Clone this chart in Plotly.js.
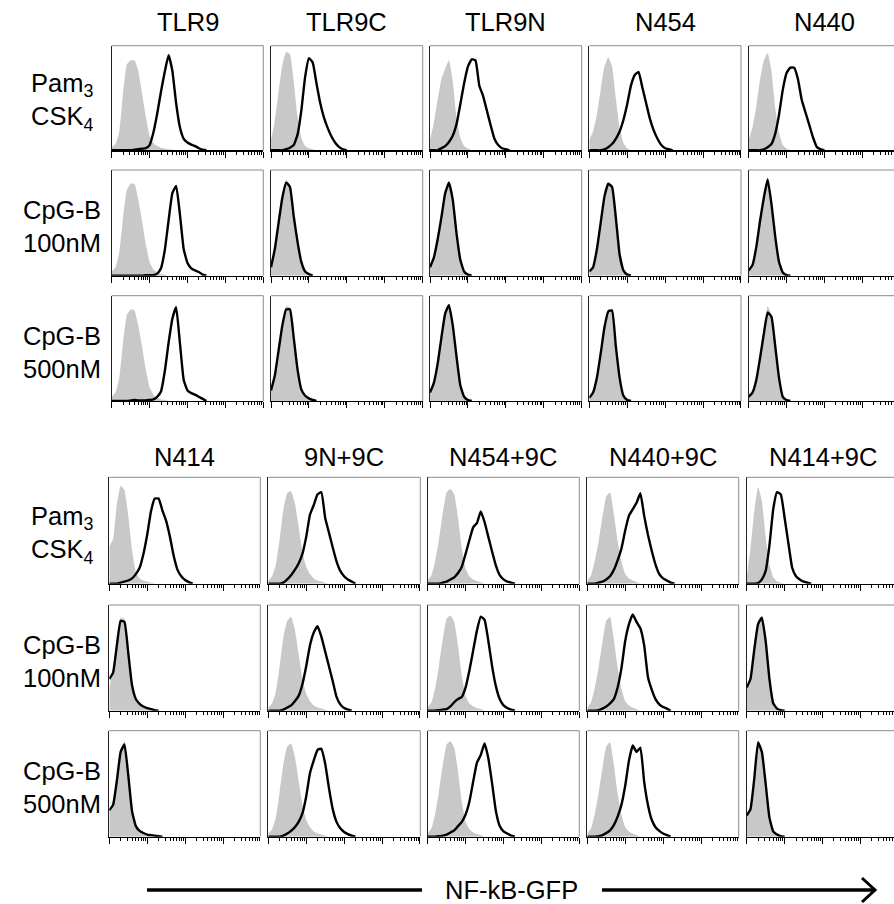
<!DOCTYPE html>
<html><head><meta charset="utf-8">
<script src="https://cdn.plot.ly/plotly-3.0.1.min.js"></script>
<style>html,body{margin:0;padding:0;background:#fff}#chart{width:894px;height:904px}</style>
</head><body><div id="chart"></div><script>
// bin centres in decades of NF-kB-GFP fluorescence (log10 units)
const binX = [0,0.1,0.2,0.3,0.4,0.5,0.6,0.7,0.8,0.9,1.0,1.1,1.2,1.3,1.4,1.5,1.6,1.7,1.8,1.9,2.0,2.1,2.2,2.3,2.4,2.5,2.6];

const colTitlesTop = ['TLR9','TLR9C','TLR9N','N454','N440'];
const colTitlesBottom = ['N414','9N+9C','N454+9C','N440+9C','N414+9C'];
const rowLabels = ['Pam<sub>3</sub><br>CSK<sub>4</sub>','CpG-B<br>100nM','CpG-B<br>500nM',
                   'Pam<sub>3</sub><br>CSK<sub>4</sub>','CpG-B<br>100nM','CpG-B<br>500nM'];
const axisLabel = 'NF-kB-GFP';

// ---- top block, row 1: Pam3CSK4 ----
const ctrl11 = [0.03,0.06,0.18,0.55,0.82,0.86,0.86,0.76,0.55,0.32,0.14,0.07,0.04,0.025,0.015,0.01,0.005,0];
const stim11 = [0,0,0,0,0,0,0.005,0.01,0.015,0.02,0.05,0.17,0.35,0.56,0.75,0.91,0.76,0.45,0.22,0.11,0.075,0.055,0.04,0.02,0.005,0];
const ctrl12 = [0.1,0.28,0.56,0.82,0.94,0.92,0.66,0.32,0.12,0.04,0.02,0.01,0];
const stim12 = [0,0,0,0,0.01,0.025,0.05,0.15,0.38,0.70,0.88,0.84,0.64,0.45,0.31,0.21,0.13,0.07,0.03,0.01,0];
const ctrl13 = [0.1,0.26,0.48,0.68,0.78,0.86,0.66,0.31,0.12,0.04,0.015,0];
const stim13 = [0,0,0,0.02,0.04,0.08,0.14,0.25,0.44,0.64,0.80,0.87,0.86,0.62,0.52,0.38,0.24,0.11,0.05,0.02,0.01,0];
const ctrl14 = [0.1,0.18,0.34,0.58,0.80,0.89,0.80,0.50,0.22,0.07,0.02,0];
const stim14 = [0,0,0,0,0.01,0.03,0.06,0.11,0.18,0.29,0.44,0.62,0.72,0.75,0.60,0.45,0.30,0.19,0.11,0.05,0.02,0.01,0];
const ctrl15 = [0.1,0.22,0.42,0.68,0.86,0.93,0.76,0.40,0.17,0.05,0.015,0];
const stim15 = [0,0,0,0,0.01,0.03,0.06,0.16,0.34,0.58,0.74,0.79,0.79,0.68,0.48,0.36,0.24,0.12,0.03,0.01,0];
// ---- top block, row 2: CpG-B 100nM ----
const ctrl21 = [0.04,0.08,0.22,0.55,0.81,0.87,0.87,0.72,0.52,0.30,0.13,0.06,0.03,0.015,0.01,0];
const stim21 = [0,0,0,0,0,0,0,0,0,0.005,0.005,0.005,0.02,0.07,0.24,0.52,0.78,0.85,0.58,0.25,0.12,0.07,0.05,0.035,0.01,0];
const ctrl22 = [0.08,0.25,0.50,0.76,0.91,0.86,0.56,0.32,0.13,0.04,0.015,0];
const stim22 = [0.08,0.25,0.50,0.74,0.88,0.84,0.56,0.32,0.13,0.04,0.015,0];
const ctrl23 = [0.08,0.17,0.34,0.56,0.80,0.89,0.72,0.40,0.15,0.04,0.01,0];
const stim23 = [0.08,0.17,0.34,0.55,0.78,0.88,0.72,0.40,0.15,0.04,0.01,0];
const ctrl24 = [0.04,0.08,0.25,0.51,0.76,0.89,0.85,0.55,0.20,0.05,0.01,0];
const stim24 = [0.04,0.08,0.25,0.50,0.75,0.87,0.84,0.55,0.20,0.05,0.01,0];
const ctrl25 = [0.05,0.10,0.27,0.53,0.76,0.93,0.69,0.37,0.13,0.03,0.005,0];
const stim25 = [0.05,0.10,0.27,0.52,0.74,0.91,0.68,0.37,0.13,0.03,0.005,0];
// ---- top block, row 3: CpG-B 500nM ----
const ctrl31 = [0.04,0.08,0.22,0.56,0.82,0.87,0.86,0.72,0.52,0.30,0.13,0.06,0.03,0.015,0.01,0];
const stim31 = [0,0,0,0,0,0.005,0.01,0.005,0.005,0.005,0.01,0.015,0.04,0.09,0.28,0.55,0.78,0.89,0.55,0.20,0.10,0.075,0.06,0.04,0.02,0];
const ctrl32 = [0.10,0.24,0.48,0.74,0.90,0.89,0.60,0.30,0.11,0.05,0.025,0.01,0];
const stim32 = [0.10,0.24,0.48,0.72,0.87,0.87,0.60,0.30,0.11,0.05,0.025,0.01,0];
const ctrl33 = [0.08,0.17,0.35,0.61,0.85,0.92,0.72,0.42,0.15,0.04,0.01,0];
const stim33 = [0.08,0.17,0.35,0.60,0.83,0.91,0.72,0.42,0.15,0.04,0.01,0];
const ctrl34 = [0.03,0.08,0.22,0.45,0.71,0.87,0.87,0.52,0.22,0.05,0.01,0];
const stim34 = [0.03,0.08,0.22,0.45,0.70,0.85,0.86,0.52,0.22,0.05,0.01,0];
const ctrl35 = [0.04,0.08,0.20,0.42,0.70,0.90,0.82,0.52,0.22,0.04,0.01,0];
const stim35 = [0.04,0.08,0.20,0.41,0.64,0.84,0.80,0.52,0.22,0.04,0.01,0];
// ---- bottom block, row 4: Pam3CSK4 ----
const ctrl41 = [0.35,0.42,0.75,0.92,0.88,0.64,0.32,0.11,0.05,0.03,0.02,0.01,0];
const stim41 = [0,0,0,0.01,0.02,0.03,0.05,0.09,0.15,0.28,0.46,0.68,0.80,0.80,0.69,0.59,0.44,0.26,0.13,0.07,0.035,0.015,0];
const ctrl42 = [0.03,0.07,0.18,0.42,0.70,0.85,0.87,0.76,0.54,0.30,0.16,0.09,0.05,0.03,0.02,0.01,0];
const stim42 = [0,0,0,0,0.01,0.04,0.08,0.13,0.19,0.28,0.44,0.65,0.74,0.84,0.86,0.62,0.48,0.34,0.21,0.12,0.07,0.04,0.02,0];
const ctrl43 = [0.03,0.08,0.22,0.42,0.67,0.86,0.89,0.84,0.62,0.33,0.14,0.07,0.04,0.025,0.015,0];
const stim43 = [0,0,0,0,0.01,0.02,0.04,0.06,0.10,0.16,0.28,0.41,0.53,0.57,0.68,0.58,0.44,0.30,0.17,0.08,0.04,0.02,0.01,0];
const ctrl44 = [0.03,0.08,0.22,0.40,0.63,0.82,0.86,0.66,0.40,0.21,0.09,0.05,0.03,0.015,0];
const stim44 = [0,0,0,0.01,0.02,0.04,0.07,0.13,0.22,0.33,0.50,0.64,0.70,0.76,0.85,0.64,0.46,0.31,0.18,0.09,0.05,0.03,0.01,0];
const ctrl45 = [0.06,0.33,0.68,0.91,0.78,0.44,0.18,0.06,0.02,0.01,0];
const stim45 = [0,0,0,0.005,0.04,0.12,0.36,0.70,0.86,0.84,0.62,0.38,0.15,0.07,0.04,0.02,0.01,0];
// ---- bottom block, row 5: CpG-B 100nM ----
const ctrl51 = [0.22,0.38,0.64,0.88,0.87,0.56,0.25,0.11,0.065,0.04,0.025,0.015,0.005,0];
const stim51 = [0.30,0.36,0.62,0.85,0.84,0.55,0.24,0.11,0.065,0.04,0.025,0.015,0.005,0];
const ctrl52 = [0.03,0.07,0.18,0.42,0.70,0.85,0.89,0.77,0.54,0.30,0.16,0.09,0.05,0.03,0.02,0.01,0];
const stim52 = [0,0,0,0,0.01,0.03,0.05,0.09,0.14,0.25,0.42,0.62,0.74,0.80,0.70,0.56,0.42,0.28,0.13,0.06,0.025,0.01,0];
const ctrl53 = [0.03,0.08,0.22,0.43,0.68,0.87,0.90,0.84,0.62,0.33,0.14,0.07,0.04,0.025,0.015,0];
const stim53 = [0,0,0,0.005,0.01,0.015,0.04,0.08,0.11,0.13,0.22,0.38,0.57,0.76,0.89,0.86,0.66,0.42,0.23,0.11,0.05,0.025,0.01,0];
const ctrl54 = [0.03,0.08,0.22,0.41,0.65,0.85,0.89,0.68,0.41,0.21,0.09,0.05,0.03,0.015,0];
const stim54 = [0,0,0,0.005,0.02,0.04,0.07,0.11,0.22,0.40,0.66,0.82,0.91,0.84,0.78,0.62,0.32,0.20,0.11,0.06,0.035,0.02,0];
const ctrl55 = [0.22,0.31,0.60,0.85,0.90,0.67,0.30,0.07,0.02,0.005,0];
const stim55 = [0.22,0.30,0.58,0.82,0.88,0.66,0.30,0.07,0.02,0.005,0];
// ---- bottom block, row 6: CpG-B 500nM ----
const ctrl61 = [0.25,0.31,0.55,0.83,0.90,0.59,0.24,0.10,0.055,0.035,0.02,0.015,0.01,0.005,0];
const stim61 = [0.25,0.30,0.53,0.80,0.87,0.58,0.24,0.10,0.055,0.035,0.02,0.015,0.01,0.005,0];
const ctrl62 = [0.03,0.07,0.18,0.42,0.69,0.85,0.88,0.76,0.53,0.30,0.16,0.09,0.05,0.03,0.02,0.01,0];
const stim62 = [0,0,0,0,0.01,0.03,0.055,0.09,0.14,0.22,0.38,0.60,0.72,0.82,0.83,0.69,0.46,0.26,0.14,0.08,0.045,0.025,0.01,0];
const ctrl63 = [0.03,0.08,0.22,0.43,0.68,0.87,0.90,0.84,0.62,0.33,0.14,0.07,0.04,0.025,0.015,0];
const stim63 = [0,0,0,0.005,0.01,0.02,0.04,0.06,0.10,0.14,0.21,0.33,0.52,0.70,0.77,0.88,0.74,0.50,0.24,0.10,0.05,0.03,0.01,0];
const ctrl64 = [0.03,0.08,0.22,0.41,0.65,0.85,0.89,0.68,0.41,0.21,0.09,0.05,0.03,0.015,0];
const stim64 = [0,0,0,0.005,0.015,0.035,0.06,0.11,0.19,0.30,0.48,0.72,0.86,0.80,0.84,0.52,0.30,0.16,0.09,0.055,0.03,0.015,0];
const ctrl65 = [0.2,0.27,0.57,0.91,0.82,0.51,0.18,0.05,0.02,0.005,0];
const stim65 = [0.2,0.26,0.55,0.89,0.80,0.50,0.18,0.05,0.02,0.005,0];

const ctrlGrid = [[ctrl11,ctrl12,ctrl13,ctrl14,ctrl15],[ctrl21,ctrl22,ctrl23,ctrl24,ctrl25],[ctrl31,ctrl32,ctrl33,ctrl34,ctrl35],
                  [ctrl41,ctrl42,ctrl43,ctrl44,ctrl45],[ctrl51,ctrl52,ctrl53,ctrl54,ctrl55],[ctrl61,ctrl62,ctrl63,ctrl64,ctrl65]];
const stimGrid = [[stim11,stim12,stim13,stim14,stim15],[stim21,stim22,stim23,stim24,stim25],[stim31,stim32,stim33,stim34,stim35],
                  [stim41,stim42,stim43,stim44,stim45],[stim51,stim52,stim53,stim54,stim55],[stim61,stim62,stim63,stim64,stim65]];

// ---- layout geometry (pixels) ----
const W = 894, H = 904;
const colsTopPx = [[111.7,263.3],[271,422.7],[430,581.7],[589.3,741],[748.7,894]];
const colsBotPx = [[109.3,260.3],[268.3,420.3],[427.7,579.3],[587.3,738.7],[746.7,894]];
const rowsPx = [[45.7,150.3],[170,275.7],[295.7,401],[477.3,583.7],[605,710.7],[730.7,836.7]];
const pxPerDecade = 151.6/4;
const FONT = 'Arial, "Liberation Sans", sans-serif';
const FS = 25.5;

const minorVals = [];
for (let d = 0; d < 4; d++) for (let k = 2; k <= 9; k++) minorVals.push(d + Math.log10(k));

const data = [];
const layout = {
  width: W, height: H, margin: {l:0, r:0, t:0, b:0},
  paper_bgcolor: '#fff', plot_bgcolor: '#fff', showlegend: false,
  annotations: [], shapes: []
};
const px2x = x => x / W;
const px2y = y => 1 - y / H;

let idx = 0;
for (let r = 0; r < 6; r++) {
  const cols = r < 3 ? colsTopPx : colsBotPx;
  for (let c = 0; c < 5; c++) {
    idx++;
    const xa = 'x' + (idx === 1 ? '' : idx), ya = 'y' + (idx === 1 ? '' : idx);
    const xk = 'xaxis' + (idx === 1 ? '' : idx), yk = 'yaxis' + (idx === 1 ? '' : idx);
    const [l, rr] = cols[c];
    const [t, b] = rowsPx[r];
    layout[xk] = {
      domain: [px2x(l), px2x(rr)], range: [0, (rr - l) / pxPerDecade], anchor: ya,
      showgrid: false, zeroline: false, showline: true, linecolor: '#000', linewidth: 1.3,
      ticks: 'outside', tickmode: 'array', tickvals: [0,1,2,3,4], ticklen: 6, tickwidth: 1, tickcolor: '#000',
      showticklabels: false, fixedrange: true,
      minor: {ticks: 'outside', tickmode: 'array', tickvals: minorVals, ticklen: 3, tickwidth: 1, tickcolor: '#000', showgrid: false}
    };
    layout[yk] = {
      domain: [px2y(b), px2y(t)], range: [0, 1], anchor: xa,
      showgrid: false, zeroline: false, showline: true, linecolor: '#222', linewidth: 1,
      ticks: '', showticklabels: false, fixedrange: true
    };
    data.push({x: binX, y: ctrlGrid[r][c], xaxis: xa, yaxis: ya, type: 'scatter', mode: 'lines',
      fill: 'tozeroy', fillcolor: 'rgb(200,200,200)', line: {width: 0, color: 'rgb(200,200,200)', shape: 'spline', smoothing: 0.4},
      hoverinfo: 'skip'});
    data.push({x: binX, y: stimGrid[r][c], xaxis: xa, yaxis: ya, type: 'scatter', mode: 'lines',
      line: {width: 2.4, color: '#000', shape: 'spline', smoothing: 0.4}, hoverinfo: 'skip'});
    // gray frame on top and right
    layout.shapes.push({type: 'line', xref: xa + ' domain', yref: ya + ' domain', x0: 0, x1: 1, y0: 1, y1: 1,
      line: {color: '#8c8c8c', width: 1}});
    if (c < 4) layout.shapes.push({type: 'line', xref: xa + ' domain', yref: ya + ' domain', x0: 1, x1: 1, y0: 0, y1: 1,
      line: {color: '#8c8c8c', width: 1}});
  }
}

// column titles
for (let c = 0; c < 5; c++) {
  const ct = colsTopPx[c], cb = colsBotPx[c];
  const ctc = c < 4 ? (ct[0] + ct[1]) / 2 : ct[0] + 75.8;
  const cbc = c < 4 ? (cb[0] + cb[1]) / 2 : cb[0] + 75.8;
  layout.annotations.push({text: colTitlesTop[c], xref: 'paper', yref: 'paper', x: px2x(ctc), y: px2y(22),
    xanchor: 'center', yanchor: 'middle', showarrow: false, font: {family: FONT, size: FS, color: '#000'}});
  layout.annotations.push({text: colTitlesBottom[c], xref: 'paper', yref: 'paper', x: px2x(cbc), y: px2y(457),
    xanchor: 'center', yanchor: 'middle', showarrow: false, font: {family: FONT, size: FS, color: '#000'}});
}
// row labels
for (let r = 0; r < 6; r++) {
  const cy = (rowsPx[r][0] + rowsPx[r][1]) / 2 + 4;
  layout.annotations.push({text: rowLabels[r], xref: 'paper', yref: 'paper', x: px2x(62), y: px2y(cy),
    xanchor: 'center', yanchor: 'middle', align: 'center', showarrow: false, font: {family: FONT, size: FS, color: '#000'}});
}
// axis label with arrow
layout.annotations.push({text: axisLabel, xref: 'paper', yref: 'paper', x: px2x(511.5), y: px2y(890),
  xanchor: 'center', yanchor: 'middle', showarrow: false, font: {family: FONT, size: FS, color: '#000'}});
layout.shapes.push({type: 'line', xref: 'paper', yref: 'paper', x0: px2x(147), x1: px2x(422), y0: px2y(890), y1: px2y(890),
  line: {color: '#000', width: 3.5}});
layout.shapes.push({type: 'line', xref: 'paper', yref: 'paper', x0: px2x(602), x1: px2x(874), y0: px2y(890), y1: px2y(890),
  line: {color: '#000', width: 3.5}});
layout.shapes.push({type: 'path', xref: 'paper', yref: 'paper',
  path: 'M' + px2x(862) + ',' + px2y(878) + ' L' + px2x(875) + ',' + px2y(890) + ' L' + px2x(862) + ',' + px2y(902),
  line: {color: '#000', width: 3}});

Plotly.newPlot('chart', data, layout, {staticPlot: true, displayModeBar: false});
</script></body></html>
